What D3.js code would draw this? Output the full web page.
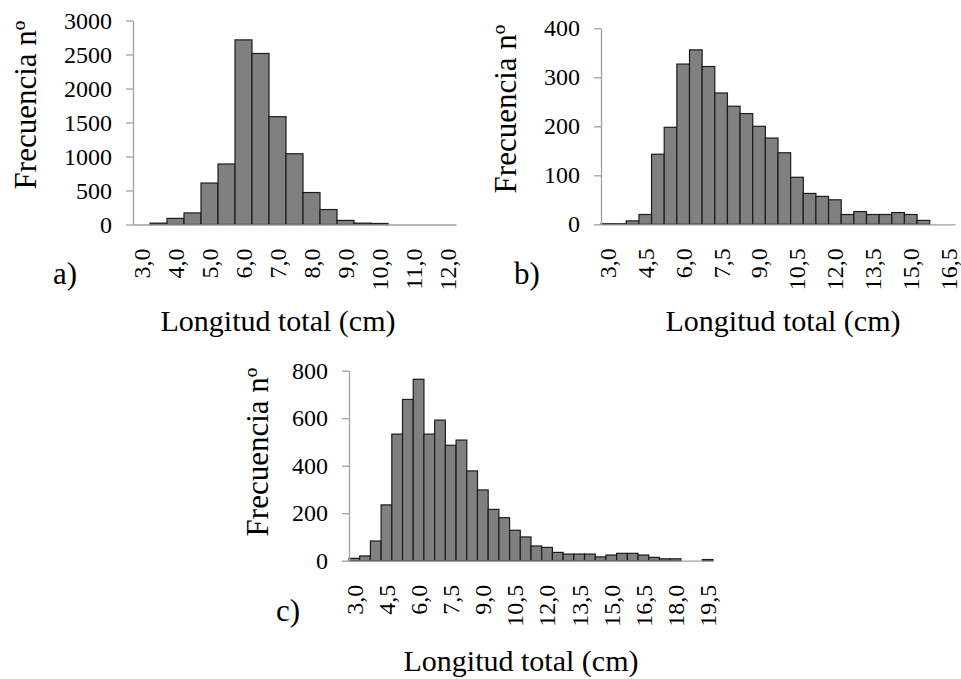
<!DOCTYPE html>
<html>
<head>
<meta charset="utf-8">
<script src="https://cdn.jsdelivr.net/npm/d3@7"></script>
<style>
  body { margin: 0; background: #fff; }
  text { font-family: "Liberation Serif", "Times New Roman", serif; fill: #000; }
  .bar { fill: #808080; stroke: #1c1c1c; stroke-width: 1.2; }
  .axis path, .axis line { stroke: #a0a0a0; stroke-width: 1.3; }
</style>
</head>
<body>
<script>
// length classes (cm) and counts
var catsA = [3.0, 3.5, 4.0, 4.5, 5.0, 5.5, 6.0, 6.5, 7.0, 7.5, 8.0, 8.5, 9.0, 9.5, 10.0, 10.5, 11.0, 11.5, 12.0];
var valsA = [0, 20, 90, 170, 610, 890, 2715, 2515, 1585, 1040, 470, 220, 60, 20, 15, 0, 0, 0, 0];

var catsB = [3.0, 3.5, 4.0, 4.5, 5.0, 5.5, 6.0, 6.5, 7.0, 7.5, 8.0, 8.5, 9.0, 9.5, 10.0, 10.5, 11.0, 11.5, 12.0, 12.5, 13.0, 13.5, 14.0, 14.5, 15.0, 15.5, 16.0, 16.5];
var valsB = [1, 1, 7, 20, 143, 198, 327, 356, 322, 268, 241, 226, 200, 176, 146, 96, 63, 57, 50, 20, 26, 20, 20, 24, 20, 8, 0, 0];

var catsC = [3.0, 3.5, 4.0, 4.5, 5.0, 5.5, 6.0, 6.5, 7.0, 7.5, 8.0, 8.5, 9.0, 9.5, 10.0, 10.5, 11.0, 11.5, 12.0, 12.5, 13.0, 13.5, 14.0, 14.5, 15.0, 15.5, 16.0, 16.5, 17.0, 17.5, 18.0, 18.5, 19.0, 19.5];
var valsC = [10, 20, 83, 235, 533, 679, 764, 533, 592, 486, 508, 378, 298, 216, 181, 128, 100, 62, 56, 35, 28, 28, 28, 16, 24, 31, 31, 24, 14, 8, 8, 0, 0, 5];

// shown tick labels
var ticksA = [3.0, 4.0, 5.0, 6.0, 7.0, 8.0, 9.0, 10.0, 11.0, 12.0];
var ticksB = [3.0, 4.5, 6.0, 7.5, 9.0, 10.5, 12.0, 13.5, 15.0, 16.5];
var ticksC = [3.0, 4.5, 6.0, 7.5, 9.0, 10.5, 12.0, 13.5, 15.0, 16.5, 18.0, 19.5];

var yTicksA = [0, 500, 1000, 1500, 2000, 2500, 3000];
var yTicksB = [0, 100, 200, 300, 400];
var yTicksC = [0, 200, 400, 600, 800];

var yTitle = "Frecuencia nº";
var xTitle = "Longitud total (cm)";

var es = d3.formatLocale({ decimal: ",", thousands: ".", grouping: [3], currency: ["", " €"] });
var fmt1 = es.format(".1f");

var svg = d3.select("body").append("svg")
    .attr("width", 961)
    .attr("height", 679);

svg.append("rect").attr("width", 961).attr("height", 679).attr("fill", "#fff");

function drawPanel(cfg) {
    var g = svg.append("g");

    var x = d3.scaleBand()
        .domain(cfg.cats)
        .range([cfg.left, cfg.right])
        .padding(0);

    var y = d3.scaleLinear()
        .domain([0, d3.max(cfg.yTicks)])
        .range([cfg.bottom, cfg.top]);

    // bars
    g.selectAll(".bar")
        .data(cfg.vals)
        .enter()
        .append("rect")
        .attr("class", "bar")
        .attr("x", function(d, i) { return x(cfg.cats[i]); })
        .attr("width", x.bandwidth())
        .attr("y", function(d) { return y(d); })
        .attr("height", function(d) { return cfg.bottom - y(d); })
        .style("display", function(d) { return d > 0 ? null : "none"; });

    // y axis
    var ya = g.append("g")
        .attr("class", "axis")
        .attr("transform", "translate(" + cfg.left + ",0)")
        .call(d3.axisLeft(y).tickValues(cfg.yTicks).tickSize(7).tickSizeOuter(0).tickPadding(14)
            .tickFormat(d3.format("d")));
    ya.selectAll("text").style("font-size", "24px").attr("font-family", null);

    // x axis (category baseline, labels only)
    var xa = g.append("g")
        .attr("class", "axis")
        .attr("transform", "translate(0," + cfg.bottom + ")")
        .call(d3.axisBottom(x).tickValues(cfg.ticks).tickSize(0).tickSizeOuter(0).tickFormat(fmt1));
    xa.selectAll("text")
        .style("font-size", "24px")
        .attr("font-family", null)
        .attr("text-anchor", "end")
        .attr("transform", "rotate(-90)")
        .attr("x", -24)
        .attr("y", 0)
        .attr("dy", "0.35em");

    // titles
    g.append("text")
        .attr("transform", "translate(" + cfg.yTitleX + "," + cfg.yTitleY + ") rotate(-90)")
        .attr("text-anchor", "middle")
        .attr("dy", "0.35em")
        .style("font-size", "31px")
        .text(yTitle);

    g.append("text")
        .attr("x", cfg.xTitleX)
        .attr("y", cfg.xTitleY)
        .attr("text-anchor", "middle")
        .style("font-size", "30px")
        .text(xTitle);

    g.append("text")
        .attr("x", cfg.tagX)
        .attr("y", cfg.tagY)
        .attr("text-anchor", "middle")
        .style("font-size", "31px")
        .text(cfg.tag);
}

drawPanel({
    cats: catsA, vals: valsA, ticks: ticksA, yTicks: yTicksA,
    left: 133, right: 456, top: 20.5, bottom: 224.5,
    yTitleX: 25, yTitleY: 105, xTitleX: 278, xTitleY: 331,
    tag: "a)", tagX: 65, tagY: 284
});

drawPanel({
    cats: catsB, vals: valsB, ticks: ticksB, yTicks: yTicksB,
    left: 601, right: 955, top: 28.3, bottom: 224.3,
    yTitleX: 505, yTitleY: 109, xTitleX: 783, xTitleY: 331,
    tag: "b)", tagX: 527, tagY: 284
});

drawPanel({
    cats: catsC, vals: valsC, ticks: ticksC, yTicks: yTicksC,
    left: 349, right: 713, top: 370.7, bottom: 560.7,
    yTitleX: 257, yTitleY: 452, xTitleX: 521, xTitleY: 671,
    tag: "c)", tagX: 288, tagY: 621
});
</script>
</body>
</html>
